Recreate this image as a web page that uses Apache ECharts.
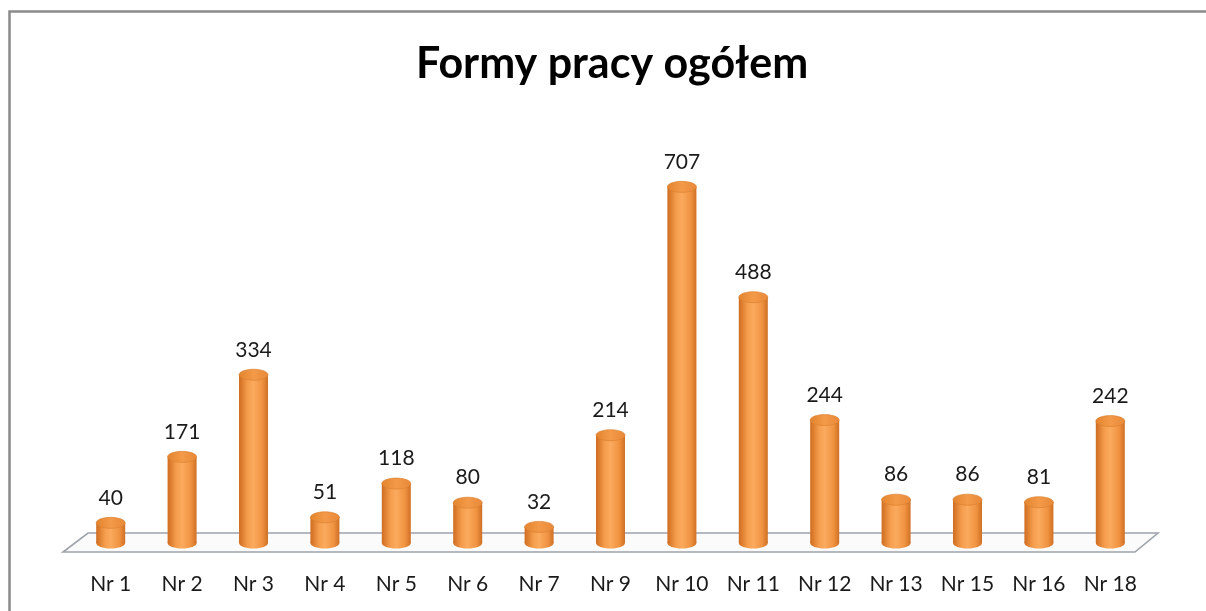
<!DOCTYPE html>
<html>
<head>
<meta charset="utf-8">
<script src="https://cdn.jsdelivr.net/npm/echarts@6/dist/echarts.min.js"></script>
<style>
html,body{margin:0;padding:0;background:#fff;}
#main{width:1206px;height:611px;}
</style>
</head>
<body>
<div id="main"></div>
<script>
const categories = ['Nr 1','Nr 2','Nr 3','Nr 4','Nr 5','Nr 6','Nr 7','Nr 9','Nr 10','Nr 11','Nr 12','Nr 13','Nr 15','Nr 16','Nr 18'];
const values = [40,171,334,51,118,80,32,214,707,488,244,86,86,81,242];
const titleText = 'Formy pracy ogółem';

const FONT = 'Lato, "Open Sans", sans-serif';
const chart = echarts.init(document.getElementById('main'), null, {renderer:'canvas'});

const bodyGrad = new echarts.graphic.LinearGradient(0,0,1,0,[
  {offset:0,color:'#cf6c20'},
  {offset:0.3,color:'#f59d4d'},
  {offset:0.5,color:'#fbaa5e'},
  {offset:0.8,color:'#f09341'},
  {offset:1,color:'#cf7024'}
]);
const topGrad = new echarts.graphic.LinearGradient(0,0,1,0,[
  {offset:0,color:'#e3842f'},
  {offset:0.5,color:'#f39a48'},
  {offset:1,color:'#e8893a'}
]);

function renderFloor(params, api){
  const cs = params.coordSys;
  const base = cs.y + cs.height;
  const l = cs.x, r = cs.x + cs.width;
  return {
    type:'polygon',
    shape:{points:[[l+13,base-10],[r+12,base-10],[r-11,base+9],[l-12,base+9]]},
    style:{fill:'#fbfbfc',stroke:'#9ea3aa',lineWidth:1.6}
  };
}

function renderBar(params, api){
  const idx = api.value(0);
  const v = api.value(1);
  const b = api.coord([idx,0]);
  const t = api.coord([idx,v]);
  const cx = b[0], base = b[1], top = t[1];
  const rx = 14.5, ry = 5.5;
  return {
    type:'group',
    children:[
      {type:'ellipse',shape:{cx:cx,cy:base,rx:rx,ry:ry},style:{fill:bodyGrad}},
      {type:'rect',shape:{x:cx-rx,y:top,width:rx*2,height:base-top},style:{fill:bodyGrad}},
      {type:'ellipse',shape:{cx:cx,cy:top,rx:rx,ry:ry},style:{fill:topGrad,stroke:'#d77d2e',lineWidth:0.6}},
      {type:'text',style:{text:String(v),x:cx,y:top-25,align:'center',verticalAlign:'middle',
        font:'21px '+FONT,fill:'#1a1a1a'}}
    ]
  };
}

chart.setOption({
  backgroundColor:'#ffffff',
  animation:false,
  title:{text:titleText,left:411,top:38,
    textStyle:{fontFamily:FONT,fontWeight:'bold',fontSize:43,color:'#000'}},
  graphic:[{type:'rect',shape:{x:9.5,y:11.5,width:1220,height:640},
    style:{fill:'none',stroke:'#8a8a8a',lineWidth:2.5},z:100,silent:true}],
  grid:{left:75,right:60,top:140,bottom:68},
  xAxis:{type:'category',data:categories,
    axisLine:{show:false},axisTick:{show:false},
    axisLabel:{margin:31,fontSize:21,fontFamily:FONT,color:'#1a1a1a'}},
  yAxis:{type:'value',min:0,max:800,show:false,splitLine:{show:false}},
  series:[
    {type:'custom',z:1,renderItem:renderFloor,data:[[0,0]],silent:true},
    {type:'custom',z:2,renderItem:renderBar,
      data:values.map((v,i)=>[i,v]),encode:{x:0,y:1}}
  ]
});
</script>
</body>
</html>
